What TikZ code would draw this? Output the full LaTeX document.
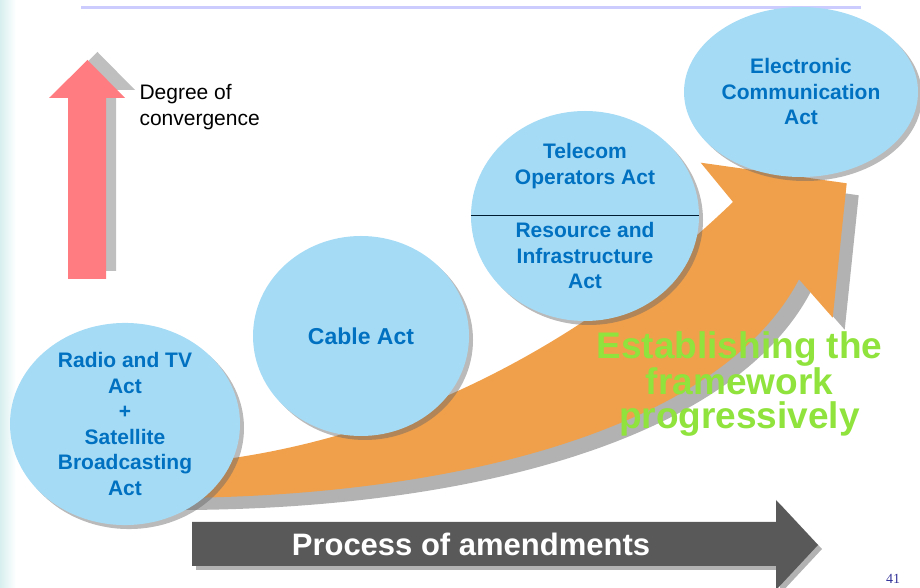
\documentclass[tikz,border=0pt]{standalone}
\usepackage{fontspec}
\setmainfont{Liberation Sans}
\newfontfamily\slidenum{Liberation Serif}
\usetikzlibrary{shapes.geometric,positioning,shadows}
\definecolor{ActBlue}    {HTML}{0070C0}
\definecolor{ActFill}    {HTML}{A6DBF5}
\definecolor{ConvRed}    {HTML}{FF7C80}
\definecolor{ShadeGray}  {HTML}{BFBFBF}
\definecolor{FrameOrange}{HTML}{F0A04B}
\definecolor{FrameGreen} {HTML}{8FE33C}
\definecolor{AmendGray}  {HTML}{595959}
\definecolor{RuleLav}    {HTML}{CCCCFF}
\definecolor{EdgeTeal}   {HTML}{D8EFEF}
\definecolor{SlideBlue}  {HTML}{333399}

\begin{document}
\begin{tikzpicture}[x=1pt,y=1pt,
    act/.style={ellipse,fill=ActFill,inner sep=0pt,align=center,
                text=ActBlue,font=\fontsize{21}{25.5}\selectfont\bfseries,
                drop shadow={shadow xshift=4pt,shadow yshift=-4pt,
                             opacity=.45,fill=black!60}},
    lbl/.style={align=center,text=ActBlue,
                font=\fontsize{21}{25.5}\selectfont\bfseries}
  ]
    \useasboundingbox (0,0) rectangle (920,588);
    \shade[left color=EdgeTeal,right color=white] (0,0) rectangle (16,588);
    \draw[RuleLav,line width=3pt] (81,580) -- (861,580);
    % degree of convergence
    \foreach \dx/\dy/\col in {10/8/ShadeGray,0/0/ConvRed}
      \fill[\col,shift={(\dx,\dy)}] (68,309) -- (68,490) -- (49,490) -- (87.5,528)
        -- (125,490) -- (106,490) -- (106,309) -- cycle;
    \node[anchor=west,align=left,font=\fontsize{21}{25.6}\selectfont] (deg)
      at (136,481) {Degree of\\convergence};
    % curved arrow
    \foreach \dx/\dy/\col in {12/-12/black!30,0/0/FrameOrange}
      \fill[\col,shift={(\dx,\dy)}] (150,122) .. controls (400,133) and (600,258) .. (733,386)
        -- (700.7,425.3) -- (846.7,404.7) -- (832.7,270.3) -- (799,308.7)
        .. controls (720,158) and (450,88) .. (150,90) -- cycle;
    % acts
    \node[act,minimum width=230pt,minimum height=198pt] (radio) at (125,164)
      {Radio and TV\\Act\\+\\Satellite\\Broadcasting\\Act};
    \node[act,minimum width=216pt,minimum height=200pt,
          font=\fontsize{23}{27}\selectfont\bfseries] (cable) at (361,252) {Cable Act};
    \node[act,minimum width=228pt,minimum height=210pt] (tel) at (585,372) {};
    \draw[black!75!ActBlue,line width=1pt] (tel.west) -- (tel.east);
    \node[lbl] (telup) at ([yshift=50pt]tel.center) {Telecom\\Operators Act};
    \node[lbl] (teldn) at ([yshift=-40pt]tel.center) {Resource and\\Infrastructure\\Act};
    \node[act,minimum width=234pt,minimum height=170pt] (ecom) at (801,496)
      {Electronic\\Communication\\Act};
    % process arrow
    \foreach \dx/\dy/\col in {4/-4/black!30,0/0/AmendGray}
      \fill[\col,shift={(\dx,\dy)}] (192,22) -- (776,22) -- (776,-2) -- (818,43)
        -- (776,88) -- (776,66) -- (192,66) -- cycle;
    \node[text=white,font=\fontsize{31}{31}\selectfont\bfseries] (amend) at (471,44)
      {Process of amendments};
    \node[align=center,text=FrameGreen,
          font=\fontsize{37}{33.5}\selectfont\bfseries] (frame)
      at (739.5,204) {Establishing the\\framework\\progressively};
    \node[text=SlideBlue,font=\slidenum\fontsize{14}{14}\selectfont] (pgno) at (893,9) {41};
  \end{tikzpicture}
\end{document}
